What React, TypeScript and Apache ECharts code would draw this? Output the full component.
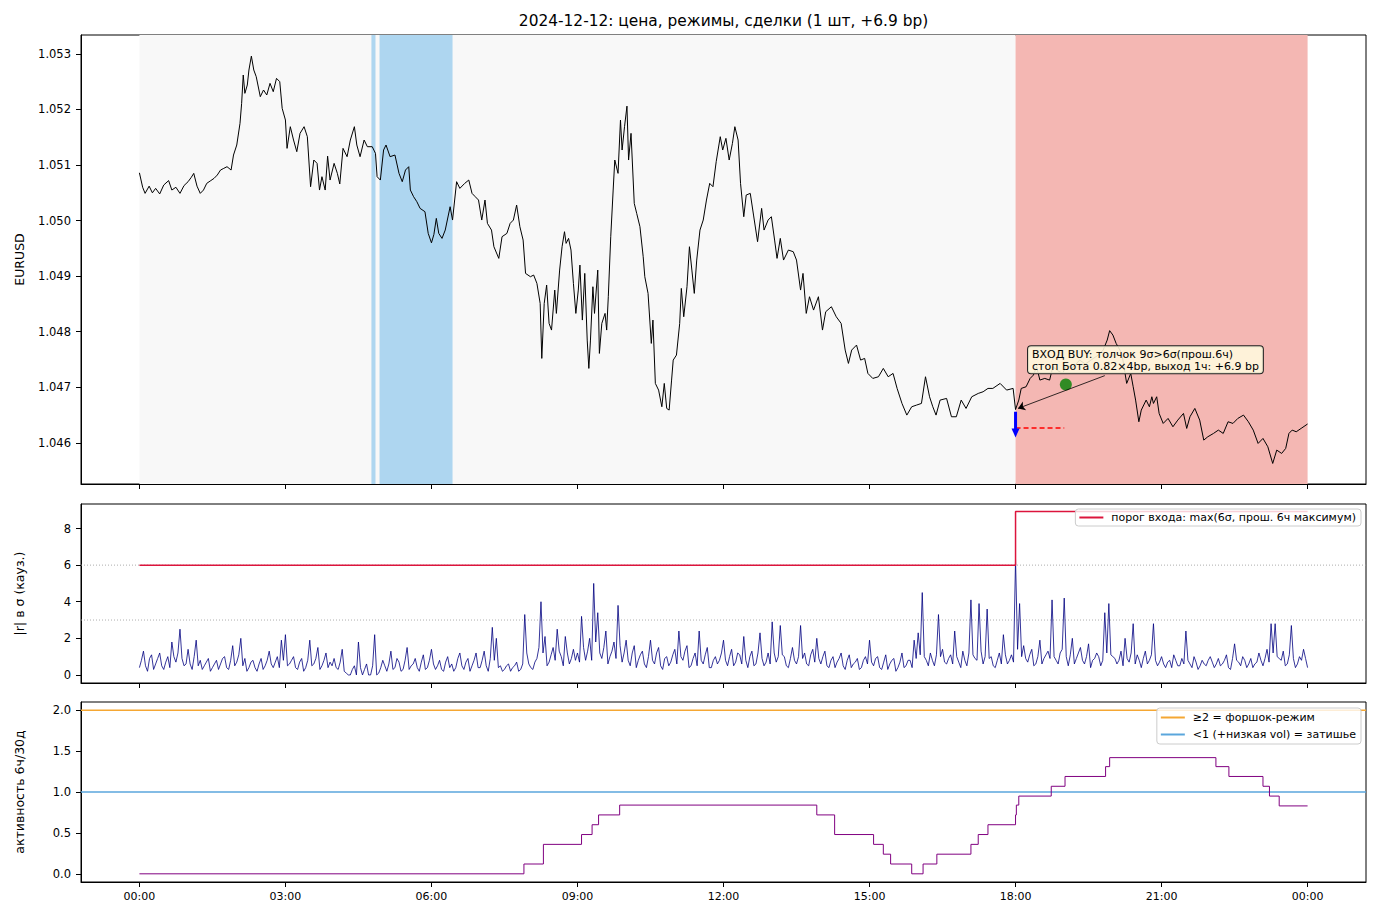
import React, { useEffect, useRef } from "react";
import * as echarts from "echarts";

const FONT = "DejaVu Sans";
const TITLE = "2024-12-12: цена, режимы, сделки (1 шт, +6.9 bp)";

// time axis in minutes from 00:00
const X_MIN = -72;
const X_MAX = 1512;
const TIME_TICKS = [0, 180, 360, 540, 720, 900, 1080, 1260, 1440];
const PRICE_TICKS = [1.046, 1.047, 1.048, 1.049, 1.05, 1.051, 1.052, 1.053];
const R_TICKS = [0, 2, 4, 6, 8];
const ACT_TICKS = [0, 0.5, 1, 1.5, 2];

// EURUSD price (minute, price)
const PRICE_T = [
  0, 4, 7, 12, 16, 20, 25, 30, 36, 40, 45, 50, 55, 60, 64, 67, 71, 75, 79, 83, 88, 92, 96, 100, 104, 108, 113, 116, 120, 124,
  126, 128, 130, 133, 135, 138, 141, 144, 149, 153, 157, 161, 165, 169, 173, 176, 180, 182, 186, 190, 194, 198, 203, 207, 211,
  215, 219, 222, 225, 229, 232, 235, 240, 244, 247, 251, 256, 260, 265, 268, 272, 277, 281, 287, 291, 293, 297, 301, 304, 309,
  315, 320, 324, 328, 332, 334, 338, 342, 346, 352, 356, 360, 363, 366, 369, 373, 377, 383, 386, 391, 395, 401, 406, 410, 414,
  418, 422, 426, 429, 434, 437, 443, 447, 453, 457, 461, 465, 469, 473, 476, 482, 486, 490, 494, 496, 499, 502, 505, 508, 512,
  514, 518, 521, 524, 526, 529, 532, 535, 538, 541, 543, 546, 549, 552, 554, 556, 559, 561, 565, 567, 570, 574, 576, 578, 581,
  584, 586, 590, 593, 595, 598, 601, 603, 606, 610, 613, 617, 621, 623, 627, 631, 633, 636, 640, 644, 647, 650, 653, 656, 658,
  662, 666, 668, 671, 675, 678, 681, 684, 687, 691, 695, 699, 703, 707, 711, 716, 719, 723, 727, 731, 734, 738, 741, 745, 748,
  753, 757, 762, 767, 770, 775, 779, 783, 786, 790, 794, 800, 806, 810, 815, 818, 822, 826, 831, 837, 842, 846, 853, 859, 865,
  870, 874, 878, 884, 889, 894, 898, 904, 911, 917, 923, 929, 934, 940, 946, 952, 958, 964, 969, 974, 978, 982, 987, 995, 1001,
  1007, 1013, 1019, 1026, 1034, 1040, 1046, 1052, 1061, 1069, 1077, 1080, 1084, 1087, 1093, 1098, 1102, 1106, 1110, 1116, 1122,
  1126, 1132, 1138, 1143, 1150, 1159, 1166, 1176, 1182, 1188, 1193, 1196, 1200, 1204, 1211, 1217, 1222, 1225, 1228, 1232, 1235,
  1241, 1245, 1248, 1250, 1254, 1257, 1262, 1268, 1274, 1280, 1287, 1291, 1295, 1301, 1307, 1312, 1317, 1324, 1330, 1336, 1342,
  1348, 1354, 1361, 1367, 1373, 1379, 1385, 1391, 1397, 1402, 1408, 1413, 1417, 1421, 1426, 1432, 1440,
];
const PRICE_V = [
  1.05086, 1.0506, 1.05049, 1.05062, 1.0505, 1.05058, 1.05048, 1.05064, 1.05072, 1.05055, 1.0506, 1.05049, 1.05063, 1.0507,
  1.05078, 1.05085, 1.05062, 1.05049, 1.05055, 1.05067, 1.05072, 1.05076, 1.05082, 1.05091, 1.05094, 1.05097, 1.05091, 1.05118,
  1.05136, 1.05175, 1.05211, 1.05262, 1.05229, 1.05244, 1.05271, 1.05296, 1.05271, 1.05259, 1.05223, 1.05235, 1.05226, 1.05247,
  1.05232, 1.05256, 1.0525, 1.05202, 1.05181, 1.0513, 1.05169, 1.05145, 1.05124, 1.05157, 1.05169, 1.05151, 1.05061, 1.05109,
  1.05103, 1.05055, 1.05079, 1.05055, 1.05116, 1.05073, 1.05103, 1.05085, 1.05066, 1.0513, 1.05115, 1.05145, 1.05169, 1.05136,
  1.05115, 1.05145, 1.05133, 1.05133, 1.05121, 1.05079, 1.05073, 1.05127, 1.05136, 1.05115, 1.05118, 1.05085, 1.0507, 1.05091,
  1.05097, 1.05055, 1.05043, 1.05034, 1.05022, 1.05016, 1.04977, 1.0496, 1.04975, 1.05004, 1.04977, 1.04968, 1.04983, 1.05025,
  1.05001, 1.0507, 1.05058, 1.05067, 1.05073, 1.05049, 1.05043, 1.05037, 1.05001, 1.05037, 1.04995, 1.04983, 1.04953, 1.04932,
  1.04971, 1.04977, 1.04995, 1.05001, 1.05028, 1.04989, 1.04965, 1.04905, 1.04899, 1.04902, 1.04887, 1.04851, 1.04752, 1.04851,
  1.04884, 1.04815, 1.04803, 1.04875, 1.04833, 1.04911, 1.04953, 1.0498, 1.04959, 1.04968, 1.04947, 1.04887, 1.04833, 1.04875,
  1.0492, 1.04821, 1.04905, 1.04785, 1.04734, 1.04785, 1.04881, 1.04833, 1.04911, 1.04761, 1.04815, 1.04833, 1.04803, 1.04863,
  1.04971, 1.05055, 1.05109, 1.05085, 1.05181, 1.05127, 1.05169, 1.05206, 1.05109, 1.05157, 1.05031, 1.05013, 1.04989, 1.04935,
  1.04899, 1.04869, 1.04779, 1.04821, 1.04707, 1.04695, 1.04665, 1.04707, 1.04662, 1.04659, 1.04713, 1.04749, 1.04758, 1.04815,
  1.04878, 1.04827, 1.04881, 1.04953, 1.04911, 1.04869, 1.04929, 1.04983, 1.05001, 1.05037, 1.05067, 1.05061, 1.05106, 1.05151,
  1.05127, 1.05148, 1.05109, 1.05139, 1.05169, 1.05145, 1.05067, 1.05007, 1.05046, 1.05049, 1.0501, 1.04962, 1.05022, 1.04983,
  1.05001, 1.05007, 1.04965, 1.04932, 1.04968, 1.04929, 1.04947, 1.04944, 1.04929, 1.04875, 1.04905, 1.04833, 1.04863, 1.04839,
  1.04863, 1.04803, 1.04836, 1.04845, 1.04827, 1.04815, 1.04767, 1.04743, 1.04767, 1.04776, 1.04749, 1.04752, 1.04725, 1.04716,
  1.04719, 1.04734, 1.04719, 1.04725, 1.04698, 1.04671, 1.0465, 1.04665, 1.04668, 1.04671, 1.04719, 1.04683, 1.04665, 1.0465,
  1.04677, 1.0468, 1.04647, 1.04647, 1.04677, 1.04662, 1.04683, 1.04689, 1.04692, 1.04698, 1.04698, 1.04707, 1.04695, 1.04698,
  1.0466, 1.04677, 1.04698, 1.04701, 1.04716, 1.04722, 1.04737, 1.04713, 1.04716, 1.04713, 1.04737, 1.0473, 1.04725, 1.0474,
  1.04735, 1.04749, 1.04742, 1.04752, 1.04758, 1.04767, 1.04785, 1.04802, 1.04794, 1.04779, 1.04761, 1.04707, 1.04725, 1.04701,
  1.04677, 1.04638, 1.04659, 1.04677, 1.04665, 1.04683, 1.04671, 1.04683, 1.04653, 1.04635, 1.04644, 1.04629, 1.04641, 1.04653,
  1.04626, 1.04647, 1.04662, 1.04641, 1.04605, 1.04611, 1.04617, 1.04623, 1.04617, 1.04638, 1.04635, 1.04644, 1.0465, 1.04638,
  1.04623, 1.04599, 1.04608, 1.04593, 1.04563, 1.04587, 1.04581, 1.0459, 1.04617, 1.04623, 1.0462, 1.04626, 1.04634,
];

// regime spans (minutes)
const SPAN_NORMAL = [0, 1080];
const SPANS_CALM = [
  [286, 291],
  [296, 386],
];
const SPAN_FORESHOCK = [1080, 1440];

// trade
const ENTRY_T = 1080;
const ENTRY_P = 1.04656;
const ENTRY_HEAD_P = 1.04618;
const STOP_P = 1.04627;
const EXIT_T = 1142;
const EXIT_P = 1.04705;
const NOTE_T = 1096;
const NOTE_P = 1.04773;
const NOTE_ARROW_FROM = [1190, 1.04721];
const NOTE_ARROW_TO = [1083, 1.04662];
const NOTE_TEXT = "ВХОД BUY: толчок 9σ>6σ(прош.6ч)\nстоп Бота 0.82×4bp, выход 1ч: +6.9 bp";

// |r| in sigma: values on the 5-minute marks (00:00 … 24:00)
const R_STEP = 5;
const R_ABS = [
  0.4, 1.3, 0.2, 1.1, 0.6, 1.2, 0.3, 1.0, 1.8, 0.7, 2.5, 0.5,
  1.4, 0.3, 1.9, 0.8, 0.5, 0.9, 0.4, 0.8, 0.6, 1.0, 0.3, 1.6,
  0.7, 2.0, 0.9, 0.4, 0.8, 0.2, 0.9, 0.5, 1.3, 0.4, 1.0, 1.9,
  2.2, 0.6, 1.0, 0.3, 0.9, 0.4, 1.9, 0.6, 1.5, 0.5, 1.2, 0.7,
  0.9, 0.3, 1.4, 0.1, 0.0, 0.5, 1.8, 0.0, 0.6, 0.0, 2.2, 0.1,
  0.8, 0.2, 1.3, 0.4, 0.7, 0.3, 1.5, 0.5, 0.9, 0.2, 1.1, 0.4,
  1.4, 0.3, 0.8, 0.2, 1.0, 0.6, 0.4, 1.2, 0.3, 0.9, 0.5, 1.2,
  0.4, 1.3, 0.2, 2.6, 2.0, 0.5, 0.3, 0.6, 0.4, 0.7, 0.3, 3.3,
  0.6, 0.3, 0.9, 4.0, 2.1, 0.7, 1.5, 2.5, 1.0, 2.1, 0.6, 1.4,
  1.2, 3.2, 0.8, 2.0, 5.0, 3.4, 0.9, 2.4, 1.0, 1.8, 3.8, 0.7,
  1.9, 0.5, 1.6, 0.8, 1.3, 0.4, 1.9, 0.6, 1.5, 0.3, 1.0, 0.7,
  1.4, 2.4, 0.8, 1.6, 0.5, 1.2, 2.4, 0.6, 1.5, 0.4, 1.0, 0.8,
  1.9, 0.5, 1.4, 0.7, 1.1, 2.1, 0.4, 1.3, 0.6, 2.3, 0.5, 1.2,
  2.9, 0.7, 2.7, 1.0, 0.4, 1.5, 0.6, 2.7, 1.2, 0.5, 1.4, 2.0,
  0.6, 1.3, 0.4, 1.0, 0.7, 1.2, 0.3, 1.1, 0.6, 0.9, 0.4, 1.0,
  1.9, 0.5, 1.0, 0.3, 1.1, 0.6, 0.9, 0.4, 1.2, 0.5, 0.8, 1.9,
  2.3, 4.5, 0.8, 1.2, 0.5, 3.3, 1.4, 0.6, 1.1, 2.4, 0.7, 1.3,
  0.5, 4.1, 0.9, 3.9, 0.6, 3.6, 1.0, 0.4, 1.2, 2.2, 0.6, 1.1,
  6.3, 3.9, 1.6, 0.7, 1.4, 0.6, 1.9, 0.9, 1.3, 4.1, 0.8, 1.2,
  4.2, 0.5, 2.0, 0.9, 1.5, 0.6, 1.7, 0.8, 1.2, 0.5, 3.4, 3.9,
  1.0, 0.6, 1.3, 2.0, 0.7, 2.8, 1.1, 0.4, 1.3, 0.8, 2.8, 0.5,
  1.0, 0.4, 0.8, 1.1, 0.5, 0.9, 2.4, 0.6, 1.0, 0.3, 0.8, 0.5,
  1.0, 0.4, 0.9, 0.6, 1.1, 0.3, 1.7, 0.7, 1.0, 0.4, 0.9, 0.6,
  1.2, 0.5, 1.4, 2.8, 2.8, 0.9, 1.3, 0.6, 2.7, 0.4, 1.0, 1.4,
  0.4,
];
// |r| in sigma: values half-way between the 5-minute marks (00:02:30 … 23:57:30)
const R_ABS_MID = [
  0.8, 0.5, 0.9, 0.3, 0.9, 0.5, 0.7, 0.4, 1.0, 1.2, 0.9, 0.6,
  0.6, 1.0, 0.5, 0.3, 0.7, 0.2, 0.6, 0.3, 0.9, 0.4, 0.8, 0.5,
  1.1, 0.5, 0.2, 0.7, 0.4, 0.6, 0.3, 0.8, 0.6, 0.7, 0.4, 0.8,
  0.5, 0.8, 0.4, 0.7, 0.2, 0.8, 0.5, 0.9, 0.3, 0.8, 0.4, 0.5,
  0.4, 0.7, 0.2, 0.0, 0.3, 0.0, 0.4, 0.3, 0.0, 0.5, 0.0, 0.4,
  0.5, 0.6, 0.3, 0.9, 0.2, 0.8, 0.3, 0.6, 0.4, 0.7, 0.3, 0.8,
  0.6, 0.5, 0.3, 0.7, 0.4, 0.2, 0.9, 0.5, 0.7, 0.2, 0.8, 0.4,
  0.8, 0.5, 0.9, 0.8, 0.4, 0.2, 0.5, 0.2, 0.5, 0.2, 0.6, 1.2,
  0.4, 0.7, 1.5, 1.2, 0.5, 1.1, 0.8, 1.3, 0.5, 1.2, 0.9, 0.8,
  0.7, 1.5, 1.3, 0.8, 1.8, 1.2, 1.5, 0.6, 1.3, 0.9, 1.6, 1.2,
  0.8, 1.2, 0.4, 1.1, 0.6, 1.0, 0.8, 1.2, 0.5, 0.9, 0.5, 1.1,
  0.6, 1.0, 1.3, 0.4, 0.9, 0.5, 0.8, 1.1, 0.4, 0.8, 0.6, 1.2,
  0.8, 1.0, 0.5, 1.2, 0.6, 0.8, 1.0, 0.5, 1.2, 0.9, 0.7, 0.6,
  1.2, 1.0, 1.1, 0.5, 0.9, 0.8, 1.0, 0.9, 0.6, 1.1, 0.7, 0.9,
  1.0, 0.5, 0.8, 0.4, 0.9, 0.5, 0.8, 0.4, 0.7, 0.3, 0.8, 0.6,
  0.7, 0.9, 0.4, 0.7, 0.3, 0.8, 0.2, 0.7, 0.4, 0.8, 0.4, 0.9,
  1.1, 1.0, 0.5, 0.8, 1.1, 1.0, 0.7, 0.9, 0.6, 1.0, 0.4, 0.8,
  1.2, 1.1, 0.8, 1.3, 1.0, 0.9, 0.5, 0.8, 0.6, 1.1, 0.8, 0.7,
  1.4, 1.0, 0.9, 1.1, 0.5, 1.0, 0.6, 1.1, 0.9, 1.0, 0.6, 1.4,
  1.0, 1.1, 0.6, 1.2, 0.8, 1.0, 0.4, 0.9, 1.0, 0.8, 1.2, 1.1,
  0.9, 0.8, 0.5, 0.9, 1.2, 0.6, 0.8, 0.9, 0.6, 1.1, 0.8, 0.7,
  0.6, 0.7, 0.4, 0.8, 0.5, 0.6, 0.8, 0.4, 0.7, 0.5, 0.6, 0.8,
  0.7, 0.6, 0.5, 0.8, 0.4, 0.9, 0.8, 0.5, 0.8, 0.6, 0.4, 0.7,
  0.8, 0.9, 0.7, 1.2, 1.0, 0.8, 0.5, 1.1, 0.9, 0.6, 0.8, 0.9,
];

// entry threshold
const THR_T = [0, 1080, 1080, 1440];
const THR_V = [6, 6, 8.93, 8.93];
const THR_GUIDES = [6, 3];

// activity 6h / 30d (step changes: from minute, value)
const ACT_T = [
  0, 474, 498, 545, 558, 566, 592, 835, 857, 905, 917, 926, 952, 966, 983, 1025, 1034, 1046, 1080, 1081, 1084, 1124, 1141,
  1191, 1196, 1327, 1343, 1385, 1393, 1405, 1440,
];
const ACT_V = [
  0.0, 0.12, 0.36, 0.48, 0.6, 0.72, 0.84, 0.72, 0.48, 0.36, 0.24, 0.12, 0.0, 0.12, 0.24, 0.36, 0.48, 0.6, 0.72, 0.84, 0.95,
  1.07, 1.19, 1.31, 1.42, 1.31, 1.19, 1.07, 0.95, 0.83, 0.83,
];
const ACT_LEVELS = [2, 1];

const NAME_THR = "порог входа: max(6σ, прош. 6ч максимум)";
const NAME_FORESHOCK = "≥2 = форшок-режим";
const NAME_CALM = "<1 (+низкая vol) = затишье";

const pad2 = (n: number) => (n < 10 ? "0" + n : "" + n);
const fmtTime = (v: number) => pad2(Math.floor(Math.round(v) / 60) % 24) + ":" + pad2(Math.round(v) % 60);

export default function App() {
  const ref = useRef<HTMLDivElement>(null);

  useEffect(() => {
    if (!ref.current) return;
    const chart = echarts.init(ref.current, undefined, { renderer: "svg" });

    const grids = [
      { left: 81, right: 14, top: 35, height: 449 },
      { left: 81, right: 14, top: 504, height: 179 },
      { left: 81, right: 14, top: 702, height: 180 },
    ].map((g) => ({ ...g, show: true, borderColor: "#000", borderWidth: 1, backgroundColor: "transparent" }));

    const xAxes = [0, 1, 2].map((k) => ({
      type: "value",
      gridIndex: k,
      min: X_MIN,
      max: X_MAX,
      axisLine: { show: true, onZero: false, lineStyle: { color: "#000", width: 1 } },
      axisTick: { show: true, length: 5, lineStyle: { color: "#000", width: 1 }, customValues: TIME_TICKS },
      axisLabel: {
        show: k === 2,
        customValues: TIME_TICKS,
        formatter: (v: number) => fmtTime(v),
        color: "#000",
        fontSize: 11,
        fontFamily: FONT,
        margin: 9,
      },
      splitLine: { show: false },
    }));

    const yCommon = (k: number, min: number, max: number, ticks: number[], fmt: (v: number) => string, name: string) => ({
      type: "value",
      gridIndex: k,
      min,
      max,
      name,
      nameLocation: "middle",
      nameGap: 55,
      nameTextStyle: { color: "#000", fontSize: 12.5, fontFamily: FONT },
      axisLine: { show: true, onZero: false, lineStyle: { color: "#000", width: 1 } },
      axisTick: { show: true, length: 5, lineStyle: { color: "#000", width: 1 }, customValues: ticks },
      axisLabel: { customValues: ticks, formatter: fmt, color: "#000", fontSize: 11.5, fontFamily: FONT, margin: 10 },
      splitLine: { show: false },
    });

    const yAxes = [
      yCommon(0, 1.04526, 1.05334, PRICE_TICKS, (v) => v.toFixed(3), "EURUSD"),
      yCommon(1, -0.44, 9.34, R_TICKS, (v) => String(Math.round(v)), "|r| в σ (кауз.)"),
      yCommon(2, -0.1, 2.1, ACT_TICKS, (v) => v.toFixed(1), "активность 6ч/30д"),
    ];

    const priceData = PRICE_T.map((t, i) => [t, PRICE_V[i]]);
    const rData: number[][] = [];
    R_ABS.forEach((v, i) => {
      rData.push([i * R_STEP, v]);
      if (i < R_ABS_MID.length) rData.push([i * R_STEP + R_STEP / 2, R_ABS_MID[i]]);
    });
    const thrData = THR_T.map((t, i) => [t, THR_V[i]]);
    const actData = ACT_T.map((t, i) => [t, ACT_V[i]]);

    const markAreaData: any[] = [
      [{ xAxis: SPAN_NORMAL[0], itemStyle: { color: "#f8f8f8" } }, { xAxis: SPAN_NORMAL[1] }],
      ...SPANS_CALM.map((s) => [{ xAxis: s[0], itemStyle: { color: "#aed6f0" } }, { xAxis: s[1] }]),
      [{ xAxis: SPAN_FORESHOCK[0], itemStyle: { color: "#f4b7b3" } }, { xAxis: SPAN_FORESHOCK[1] }],
    ];

    const series: any[] = [
      {
        name: "price",
        type: "line",
        xAxisIndex: 0,
        yAxisIndex: 0,
        data: priceData,
        showSymbol: false,
        symbol: "none",
        color: "#000",
        lineStyle: { color: "#000", width: 1 },
        z: 3,
        markArea: { silent: true, data: markAreaData, label: { show: false } },
        markLine: {
          silent: true,
          symbol: ["none", "arrow"],
          symbolSize: 7,
          label: { show: false },
          lineStyle: { color: "#000", width: 0.8, type: "solid" },
          data: [[{ coord: NOTE_ARROW_FROM }, { coord: NOTE_ARROW_TO }]],
          z: 6,
        },
        markPoint: {
          silent: true,
          symbol: "rect",
          symbolSize: 1,
          itemStyle: { color: "rgba(0,0,0,0)" },
          z: 8,
          data: [
            {
              coord: [NOTE_T, NOTE_P],
              label: {
                show: true,
                position: [0, 0],
                align: "left",
                verticalAlign: "top",
                formatter: NOTE_TEXT,
                color: "#000",
                fontSize: 11,
                lineHeight: 12,
                fontFamily: FONT,
                backgroundColor: "rgba(255,250,222,0.88)",
                borderColor: "#222",
                borderWidth: 1,
                borderRadius: 3,
                padding: [2, 4, 1, 4],
              },
            },
          ],
        },
      },
      {
        name: "stop",
        type: "line",
        xAxisIndex: 0,
        yAxisIndex: 0,
        data: [
          [ENTRY_T, STOP_P],
          [EXIT_T - 2, STOP_P],
        ],
        symbol: "none",
        color: "#ff0000",
        lineStyle: { color: "#ff0000", width: 1.5, type: [5, 3] },
        z: 4,
      },
      {
        name: "entry",
        type: "line",
        xAxisIndex: 0,
        yAxisIndex: 0,
        data: [
          { value: [ENTRY_T, ENTRY_P], symbol: "none" },
          { value: [ENTRY_T, ENTRY_HEAD_P], symbol: "triangle", symbolRotate: 180, symbolSize: [8, 9] },
        ],
        showSymbol: true,
        color: "#0000ff",
        itemStyle: { color: "#0000ff" },
        lineStyle: { color: "#0000ff", width: 3 },
        z: 5,
      },
      {
        name: "exit",
        type: "scatter",
        xAxisIndex: 0,
        yAxisIndex: 0,
        data: [[EXIT_T, EXIT_P]],
        symbol: "circle",
        symbolSize: 12,
        itemStyle: { color: "#008000" },
        z: 5,
      },
      ...THR_GUIDES.map((g) => ({
        name: "guide" + g,
        type: "line",
        xAxisIndex: 1,
        yAxisIndex: 1,
        data: [
          [X_MIN, g],
          [X_MAX, g],
        ],
        symbol: "none",
        color: "#999",
        lineStyle: { color: "#999", width: 0.8, type: [1, 2] },
        z: 1,
      })),
      {
        name: "absr",
        type: "line",
        xAxisIndex: 1,
        yAxisIndex: 1,
        data: rData,
        symbol: "none",
        color: "#000080",
        lineStyle: { color: "#000080", width: 0.8 },
        z: 2,
      },
      {
        name: NAME_THR,
        type: "line",
        xAxisIndex: 1,
        yAxisIndex: 1,
        data: thrData,
        symbol: "none",
        color: "#dc143c",
        lineStyle: { color: "#dc143c", width: 1.5 },
        z: 3,
      },
      {
        name: NAME_FORESHOCK,
        type: "line",
        xAxisIndex: 2,
        yAxisIndex: 2,
        data: [
          [X_MIN, ACT_LEVELS[0]],
          [X_MAX, ACT_LEVELS[0]],
        ],
        symbol: "none",
        color: "#f5a733",
        lineStyle: { color: "#f5a733", width: 1.5 },
        z: 2,
      },
      {
        name: NAME_CALM,
        type: "line",
        xAxisIndex: 2,
        yAxisIndex: 2,
        data: [
          [X_MIN, ACT_LEVELS[1]],
          [X_MAX, ACT_LEVELS[1]],
        ],
        symbol: "none",
        color: "#5aa6dc",
        lineStyle: { color: "#5aa6dc", width: 1.5 },
        z: 2,
      },
      {
        name: "activity",
        type: "line",
        xAxisIndex: 2,
        yAxisIndex: 2,
        data: actData,
        step: "end",
        symbol: "none",
        color: "#800080",
        lineStyle: { color: "#800080", width: 1 },
        z: 3,
      },
    ];

    const legendBase = {
      icon: "rect",
      itemWidth: 24,
      itemHeight: 2,
      right: 19,
      backgroundColor: "rgba(255,255,255,0.8)",
      borderColor: "#cccccc",
      borderWidth: 1,
      borderRadius: 3,
      selectedMode: false,
      textStyle: { color: "#000", fontSize: 11, fontFamily: FONT, padding: [0, 0, 0, 3] },
    };

    chart.setOption({
      animation: false,
      backgroundColor: "#ffffff",
      textStyle: { fontFamily: FONT },
      grid: grids,
      xAxis: xAxes,
      yAxis: yAxes,
      legend: [
        { ...legendBase, data: [NAME_THR], top: 509, padding: [3, 5, 3, 4] },
        {
          ...legendBase,
          data: [NAME_FORESHOCK, NAME_CALM],
          orient: "vertical",
          top: 708,
          itemGap: 6,
          padding: [4, 5, 4, 4],
        },
      ],
      graphic: [
        {
          type: "text",
          x: 723.5,
          y: 21,
          style: {
            text: TITLE,
            textAlign: "center",
            textVerticalAlign: "middle",
            align: "center",
            verticalAlign: "middle",
            fill: "#000",
            fontSize: 15.4,
            fontFamily: FONT,
          },
        },
      ],
      series,
    });

    return () => chart.dispose();
  }, []);

  return <div ref={ref} style={{ position: "fixed", left: 0, top: 0, width: 1380, height: 920 }} />;
}
